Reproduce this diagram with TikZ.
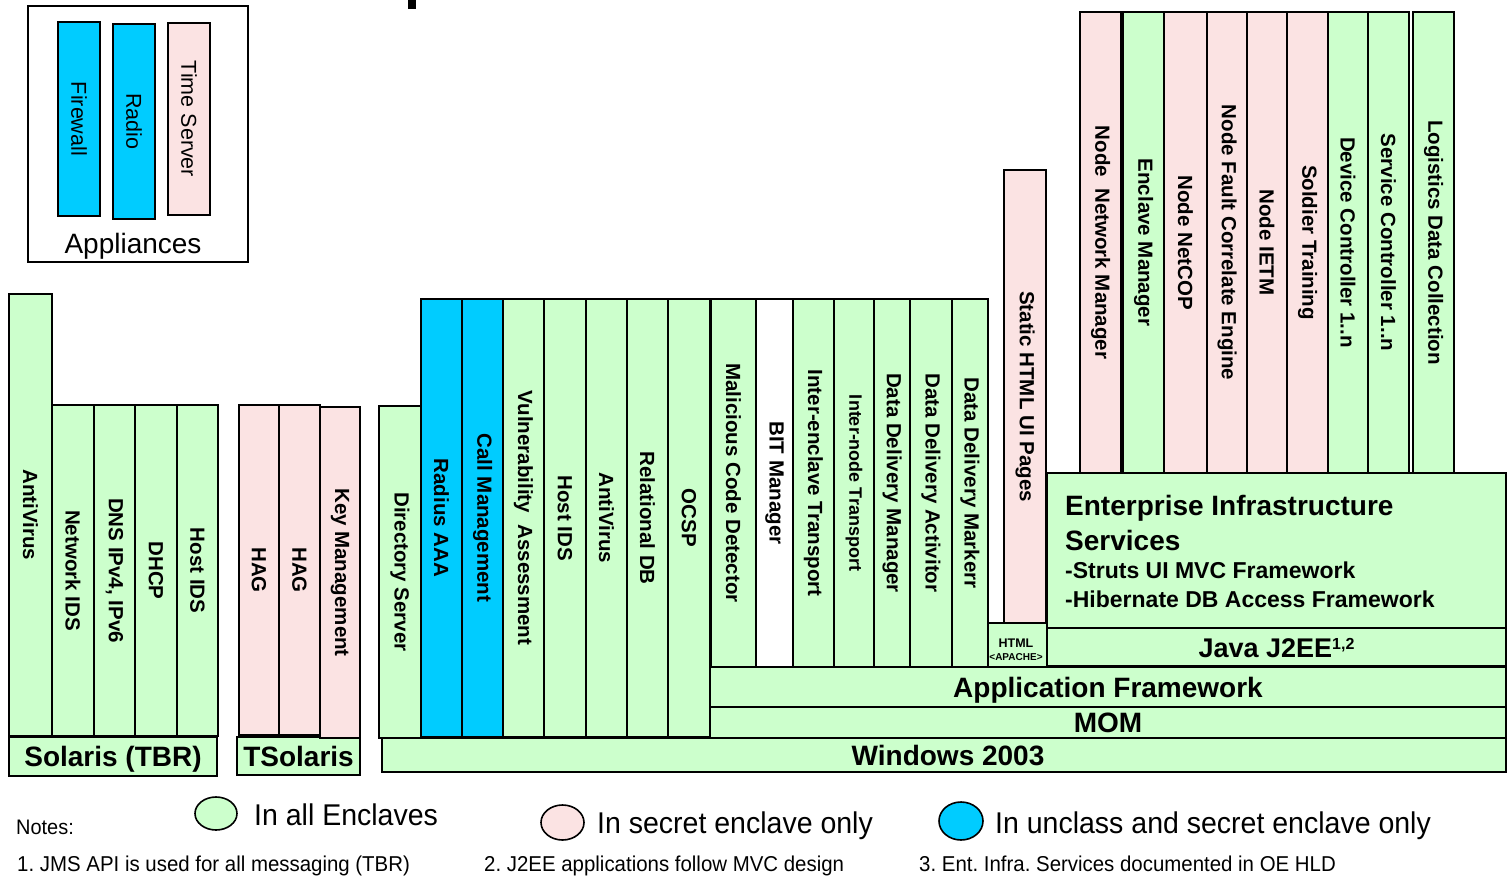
\documentclass[tikz,border=0pt]{standalone}
\usepackage{fontspec}
\setmainfont{Liberation Sans}
\newfontfamily\narrowsans[FakeStretch=0.95]{Liberation Sans}
\usetikzlibrary{shapes.geometric}
\frenchspacing
\definecolor{cgreen}{HTML}{CCFFCC}
\definecolor{cpink}{HTML}{FBE3E3}
\definecolor{cblue}{HTML}{00CCFF}
\tikzset{
  box/.style={draw=black, line width=1.6pt, inner sep=0pt, outer sep=0pt},
  grn/.style={fill=cgreen}, pnk/.style={fill=cpink}, blu/.style={fill=cblue}, wht/.style={fill=white},
  coltext/.style={font=\bfseries\fontsize{20.5}{24}\selectfont},
  apptext/.style={font=\fontsize{21.5}{24}\selectfont},
  smalltext/.style={font=\bfseries\fontsize{18}{20}\selectfont},
  bartext/.style={font=\bfseries\fontsize{28}{30}\selectfont, text height=20pt, text depth=0pt},
  legtext/.style={font=\narrowsans\fontsize{30}{32}\selectfont, anchor=base west, inner sep=0pt},
  notetext/.style={font=\narrowsans\fontsize{21.5}{24}\selectfont, anchor=base west, inner sep=0pt},
}
\newcommand\mycol[7]{%
  \pgfmathsetmacro\mcx{(#2+#3)/2}%
  \pgfmathsetmacro\mcy{(#4+#5)/2}%
  \pgfmathsetmacro\mcw{#5-#4}%
  \pgfmathsetmacro\mch{#3-#2}%
  \node[box,coltext,#6,minimum width=\mcw pt,minimum height=\mch pt,rotate=-90] (#1) at (\mcx,\mcy) {#7};}
\newcommand\mybar[7]{%
  \pgfmathsetmacro\mcx{(#2+#3)/2}%
  \pgfmathsetmacro\mcy{(#4+#5)/2}%
  \pgfmathsetmacro\mcw{#3-#2}%
  \pgfmathsetmacro\mch{#5-#4}%
  \node[box,bartext,#6,minimum width=\mcw pt,minimum height=\mch pt] (#1) at (\mcx,\mcy) {#7};}
\begin{document}
\begin{tikzpicture}[x=1pt,y=-1pt]
\useasboundingbox (0,0) rectangle (1507,878);
\fill[white] (0,0) rectangle (1507,878);
% cut-off title mark
\fill[black] (408,0) rectangle (416,9);
% Appliances
\node[box,minimum width=220pt,minimum height=256pt] (appl) at (138,134) {};
\mycol{fw}{58}{100}{22}{216}{blu,apptext}{Firewall}
\mycol{radio}{113}{155}{24}{219}{blu,apptext}{Radio}
\mycol{ts}{168}{210}{23}{215}{pnk,apptext}{Time Server}
\node[font=\fontsize{28}{30}\selectfont, anchor=base, inner sep=0pt] (appllbl) at (133,253) {Appliances};
% bottom bars
\mybar{solaris}{9}{217}{737}{776}{grn}{Solaris (TBR)}
\mybar{tsolaris}{237}{360}{737}{775}{grn}{TSolaris}
\mybar{win}{382}{1506}{738}{772}{grn}{\hspace*{8pt}Windows 2003}
\mybar{mom}{710}{1506}{707}{738}{grn}{MOM}
\mybar{appfw}{710}{1506}{667}{707}{grn}{Application Framework}
\mybar{java}{1047}{1506}{628}{666}{grn}{\fontsize{27}{30}\selectfont Java J2EE\raisebox{8pt}{\fontsize{16}{16}\selectfont 1,2}}
\mybar{eis}{1047}{1506}{473}{628}{grn}{}
\mybar{html}{988}{1047}{623}{667}{grn}{}
\node[font=\bfseries\fontsize{12.5}{13}\selectfont, anchor=base, inner sep=0pt] (htmlA) at (1016,647) {HTML};
\node[font=\bfseries\fontsize{10}{11}\selectfont, anchor=base, inner sep=0pt] (htmlB) at (1016,660) {<APACHE>};
% left group
\mycol{av1}{9}{52}{294}{736}{grn}{AntiVirus}
\mycol{nids}{52}{94}{405}{736}{grn}{Network IDS}
\mycol{dns}{94}{135}{405}{736}{grn}{DNS IPv4, IPv6}
\mycol{dhcp}{135}{177}{405}{736}{grn}{DHCP}
\mycol{hids1}{177}{218}{405}{736}{grn}{Host IDS}
% TSolaris group
\mycol{hag1}{239}{279}{405}{735}{pnk}{HAG}
\mycol{hag2}{279}{320}{405}{735}{pnk}{HAG}
\mycol{km}{320}{360}{407}{738}{pnk}{Key Management}
% Windows group
\mycol{ds}{379}{421}{406}{738}{grn}{Directory Server}
\mycol{radius}{421}{462}{299}{737}{blu}{Radius  AAA}
\mycol{call}{462}{503}{299}{737}{blu}{Call Management}
\mycol{vuln}{503}{544}{299}{737}{grn}{Vulnerability\ \ Assessment}
\mycol{hids2}{544}{586}{299}{737}{grn}{Host IDS}
\mycol{av2}{586}{627}{299}{737}{grn}{AntiVirus}
\mycol{rdb}{627}{668}{299}{737}{grn}{Relational DB}
\mycol{ocsp}{668}{710}{299}{737}{grn}{OCSP}
\mycol{mcd}{711}{756}{299}{667}{grn}{Malicious Code Detector}
\mycol{bit}{756}{793}{299}{667}{wht}{BIT Manager}
\mycol{iet}{793}{834}{299}{667}{grn}{Inter-enclave Transport}
\mycol{int}{834}{874}{299}{667}{grn,smalltext}{Inter-node Transport}
\mycol{ddm}{874}{910}{299}{667}{grn}{Data Delivery Manager}
\mycol{dda}{910}{952}{299}{667}{grn}{Data Delivery Activitor}
\mycol{ddk}{952}{988}{299}{667}{grn}{Data Delivery Markerr}
\mycol{static}{1004}{1046}{170}{623}{pnk}{Static HTML UI Pages}
% top right columns
\mycol{nnm}{1080}{1121}{12}{473}{pnk}{Node\ \ Network Manager}
\mycol{em}{1123}{1164}{12}{473}{grn}{Enclave Manager}
\mycol{netcop}{1164}{1207}{12}{473}{pnk}{Node NetCOP}
\mycol{nfce}{1207}{1247}{12}{473}{pnk}{Node Fault Correlate Engine}
\mycol{ietm}{1247}{1287}{12}{473}{pnk}{Node IETM}
\mycol{st}{1287}{1328}{12}{473}{pnk}{Soldier Training}
\mycol{dc}{1328}{1368}{12}{473}{grn}{Device Controller 1..n}
\mycol{sc}{1368}{1409}{12}{473}{grn}{Service Controller 1..n}
\mycol{ldc}{1413}{1454}{12}{473}{grn}{Logistics Data Collection}
% EIS text
\node[bartext, anchor=base west, inner sep=0pt] (eis1) at (1065,515) {Enterprise Infrastructure};
\node[bartext, anchor=base west, inner sep=0pt] (eis2) at (1065,550) {Services};
\node[font=\bfseries\fontsize{23}{25}\selectfont, anchor=base west, inner sep=0pt] (eis3) at (1065,578) {-Struts UI MVC Framework};
\node[font=\bfseries\fontsize{23}{25}\selectfont, anchor=base west, inner sep=0pt] (eis4) at (1065,607) {-Hibernate DB Access Framework};
% legend
\node[box,grn,ellipse,minimum width=42pt,minimum height=33pt] (lg) at (216,813.5) {};
\node[box,pnk,ellipse,minimum width=43pt,minimum height=35pt] (lp) at (562.5,822.5) {};
\node[box,blu,ellipse,minimum width=44pt,minimum height=38pt] (lb) at (961,821) {};
\node[legtext] (lgt) at (254,825) {In all Enclaves};
\node[legtext] (lpt) at (597,833) {In secret enclave only};
\node[legtext] (lbt) at (995,833) {In unclass and secret enclave only};
\node[notetext, font=\narrowsans\fontsize{21}{23}\selectfont] (notes) at (16,834) {Notes:};
\node[notetext] (n1) at (17,871) {1. JMS API is used for all messaging (TBR)};
\node[notetext] (n2) at (484,871) {2. J2EE applications follow MVC design};
\node[notetext] (n3) at (919,871) {3. Ent. Infra. Services documented in OE HLD};
\end{tikzpicture}
\end{document}
